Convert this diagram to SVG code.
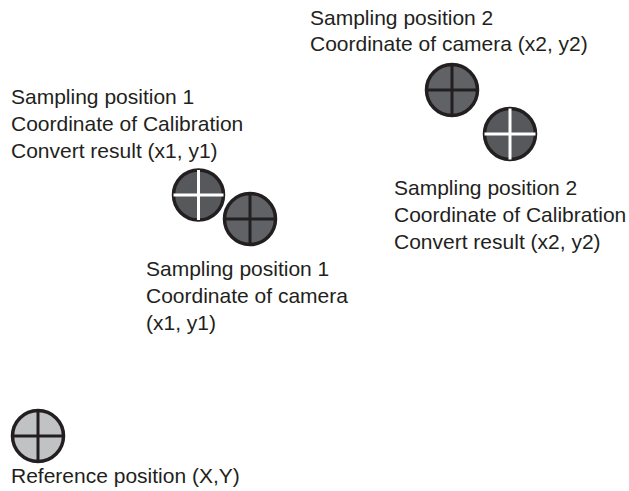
<svg xmlns="http://www.w3.org/2000/svg" width="629" height="491" viewBox="0 0 629 491">
<style>
text{font-family:"Liberation Sans",Arial,sans-serif;font-size:21px;fill:#231f20}
.ring{stroke:#231f20;stroke-width:3.5}
.dark{fill:#57585b}
.cam{fill:#616265}
.light{fill:#c1c2c4}
.xb{stroke:#231f20;stroke-width:3}
.xw{stroke:#ffffff;stroke-width:3}
</style>
<rect width="629" height="491" fill="#ffffff"/>
<g id="sp1-calib">
<circle class="ring dark" cx="198.5" cy="195" r="25"/>
<line class="xw" x1="173.5" y1="195" x2="223.5" y2="195"/>
<line class="xw" x1="198.5" y1="170" x2="198.5" y2="220"/>
</g>
<g id="sp1-camera">
<circle class="ring cam" cx="250" cy="219" r="25.5"/>
<line class="xb" x1="224.5" y1="219" x2="275.5" y2="219"/>
<line class="xb" x1="250" y1="193.5" x2="250" y2="244.5"/>
</g>
<g id="sp2-camera">
<circle class="ring cam" cx="452" cy="90" r="25.5"/>
<line class="xb" x1="426.5" y1="90" x2="477.5" y2="90"/>
<line class="xb" x1="452" y1="64.5" x2="452" y2="115.5"/>
</g>
<g id="sp2-calib">
<circle class="ring dark" cx="510" cy="134" r="25.5"/>
<line class="xw" x1="484.5" y1="134" x2="535.5" y2="134"/>
<line class="xw" x1="510" y1="108.5" x2="510" y2="159.5"/>
</g>
<g id="reference">
<circle class="ring light" cx="38" cy="436" r="25.5"/>
<line class="xb" x1="12.5" y1="436" x2="63.5" y2="436"/>
<line class="xb" x1="38" y1="410.5" x2="38" y2="461.5"/>
</g>
<g id="labels">
<text x="310" y="25">Sampling position 2</text>
<text x="310" y="51">Coordinate of camera (x2, y2)</text>
<text x="11" y="104">Sampling position 1</text>
<text x="11" y="131">Coordinate of Calibration</text>
<text x="11" y="158">Convert result (x1, y1)</text>
<text x="394" y="195">Sampling position 2</text>
<text x="394" y="222">Coordinate of Calibration</text>
<text x="394" y="249">Convert result (x2, y2)</text>
<text x="146" y="276">Sampling position 1</text>
<text x="146" y="303">Coordinate of camera</text>
<text x="146" y="330">(x1, y1)</text>
<text x="11" y="483">Reference position (X,Y)</text>
</g>
<g id="connectors"></g>
</svg>
